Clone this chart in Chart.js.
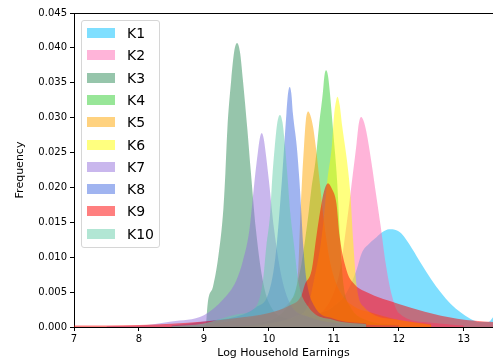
<!DOCTYPE html>
<html>
<head>
<meta charset="utf-8">
<script src="https://cdn.jsdelivr.net/npm/chart.js@4.4.0/dist/chart.umd.min.js"></script>
<style>
    html, body { margin: 0; padding: 0; background: #fff; overflow: hidden; }
    #wrap { position: relative; width: 493px; height: 363px; }
    #legend {
        position: absolute; left: 81px; top: 20px; width: 77px; height: 226px;
        border: 1px solid #d6d6d6; border-radius: 3px; background: rgba(255, 255, 255, 0.8);
        font-family: 'DejaVu Sans', sans-serif; font-size: 14px; color: #000;
    }
    .item { position: absolute; left: 5px; height: 18px; display: flex; align-items: center; white-space: nowrap; }
    .sw { width: 28px; height: 10px; margin-right: 12px; }
</style>
</head>
<body>
<div id="wrap">
    <canvas id="histChart" width="493" height="363"></canvas>
    <div id="legend"></div>
</div>
<script>
// Group labels and fill colours (drawn at alpha 0.5)
const groupLabels = ['K1', 'K2', 'K3', 'K4', 'K5', 'K6', 'K7', 'K8', 'K9', 'K10'];
const groupColors = [
    'rgba(0, 191, 255, 0.5)',   // deepskyblue
    'rgba(255, 105, 180, 0.5)', // hotpink
    'rgba(46, 139, 87, 0.5)',   // seagreen
    'rgba(50, 205, 50, 0.5)',   // limegreen
    'rgba(255, 165, 0, 0.5)',   // orange
    'rgba(255, 255, 0, 0.5)',   // yellow
    'rgba(147, 112, 219, 0.5)', // mediumpurple
    'rgba(65, 105, 225, 0.5)',  // royalblue
    'rgba(255, 0, 0, 0.5)',     // red
    'rgba(102, 205, 170, 0.5)'  // mediumaquamarine
];

// Histogram outlines: log earnings (x) and frequency (y)
const k1X = [8.5, 9.5, 10.0, 10.5, 10.8, 11.0, 11.2, 11.35, 11.43, 11.55, 11.66, 11.75, 11.85, 11.95, 12.04, 12.2, 12.35, 12.5, 12.65, 12.8, 12.95, 13.1, 13.25, 13.38, 13.45];
const k1Y = [0, 0.0002, 0.0005, 0.0012, 0.002, 0.003, 0.005, 0.0082, 0.0106, 0.012, 0.0129, 0.0136, 0.0140, 0.0139, 0.0134, 0.0113, 0.0090, 0.0068, 0.0049, 0.0033, 0.0021, 0.0012, 0.0007, 0.0007, 0.0014];

const k2X = [9.5, 10.5, 10.8, 11.0, 11.1, 11.2, 11.3, 11.35, 11.385, 11.42, 11.46, 11.5, 11.58, 11.65, 11.72, 11.8, 11.9, 12.0, 12.5, 13.0];
const k2Y = [0, 0.001, 0.002, 0.005, 0.0085, 0.015, 0.0225, 0.0263, 0.0292, 0.0301, 0.0295, 0.028, 0.0235, 0.019, 0.0145, 0.009, 0.0043, 0.002, 0.0006, 0.0002];

const k3X = [9.03, 9.06, 9.14, 9.22, 9.3, 9.33, 9.36, 9.42, 9.465, 9.51, 9.555, 9.6, 9.67, 9.72, 9.8, 9.9, 10.0, 10.3, 11.0];
const k3Y = [0, 0.0035, 0.0058, 0.010, 0.017, 0.022, 0.0282, 0.0354, 0.0394, 0.0407, 0.0394, 0.0354, 0.0282, 0.0225, 0.014, 0.007, 0.0035, 0.0012, 0.0003];

const k4X = [9.5, 9.8, 10.2, 10.4, 10.5, 10.6, 10.65, 10.72, 10.77, 10.83, 10.855, 10.88, 10.91, 10.94, 10.99, 11.05, 11.1, 11.15, 11.25, 11.5, 12.0];
const k4Y = [0, 0.0005, 0.002, 0.005, 0.009, 0.0155, 0.0195, 0.024, 0.0287, 0.0335, 0.036, 0.0368, 0.036, 0.0335, 0.028, 0.021, 0.012, 0.006, 0.003, 0.001, 0.0003];

const k5X = [9.0, 9.5, 10.0, 10.35, 10.45, 10.48, 10.51, 10.54, 10.57, 10.605, 10.64, 10.68, 10.72, 10.78, 10.85, 10.95, 11.1, 11.3, 11.6, 12.0, 12.5];
const k5Y = [0.0003, 0.001, 0.002, 0.004, 0.008, 0.015, 0.021, 0.0258, 0.0297, 0.0309, 0.0303, 0.0287, 0.026, 0.021, 0.015, 0.009, 0.005, 0.003, 0.002, 0.001, 0.0004];

const k6X = [9.5, 10.0, 10.4, 10.6, 10.7, 10.8, 10.85, 10.9, 10.97, 11.0, 11.03, 11.056, 11.09, 11.13, 11.2, 11.25, 11.3, 11.35, 11.45, 12.0, 12.5];
const k6Y = [0, 0.0005, 0.0015, 0.003, 0.007, 0.012, 0.016, 0.021, 0.026, 0.030, 0.0322, 0.033, 0.0318, 0.0287, 0.024, 0.0196, 0.012, 0.006, 0.003, 0.001, 0.0003];

const k7X = [7.5, 8.0, 8.5, 9.0, 9.3, 9.5, 9.6, 9.7, 9.78, 9.83, 9.86, 9.89, 9.92, 9.95, 10.0, 10.08, 10.2, 10.35, 10.6, 11.0, 12.0];
const k7Y = [0.0001, 0.0002, 0.0008, 0.0017, 0.004, 0.0067, 0.0095, 0.0139, 0.021, 0.025, 0.027, 0.0278, 0.027, 0.025, 0.021, 0.014, 0.007, 0.003, 0.0015, 0.0006, 0.0002];

const k8X = [8.5, 9.0, 9.5, 9.8, 10.0, 10.1, 10.2, 10.27, 10.295, 10.32, 10.345, 10.37, 10.43, 10.47, 10.5, 10.53, 10.58, 10.7, 11.0, 11.5];
const k8Y = [0.0002, 0.0008, 0.0015, 0.0028, 0.005, 0.010, 0.021, 0.0306, 0.0335, 0.0344, 0.0335, 0.0306, 0.0258, 0.021, 0.0163, 0.0115, 0.0067, 0.003, 0.0012, 0.0005];

const k9X = [7.0, 8.0, 9.0, 9.5, 10.0, 10.3, 10.5, 10.55, 10.66, 10.73, 10.81, 10.86, 10.91, 10.97, 11.04, 11.09, 11.2, 11.3, 11.5, 12.0, 12.4, 12.9, 13.45];
const k9Y = [0.0002, 0.0003, 0.0008, 0.0013, 0.002, 0.003, 0.0045, 0.006, 0.0082, 0.0129, 0.0177, 0.0198, 0.0206, 0.0198, 0.0177, 0.0129, 0.008, 0.0063, 0.005, 0.0033, 0.0022, 0.0012, 0.0007];

const k10X = [8.5, 9.0, 9.5, 9.8, 9.91, 9.96, 10.02, 10.05, 10.09, 10.13, 10.17, 10.21, 10.25, 10.29, 10.33, 10.39, 10.45, 10.6, 11.0, 11.5];
const k10Y = [0.0001, 0.0005, 0.0018, 0.0029, 0.0067, 0.0115, 0.0163, 0.0211, 0.0258, 0.0293, 0.0304, 0.0293, 0.0258, 0.0211, 0.0163, 0.0115, 0.0067, 0.003, 0.001, 0.0004];

const seriesX = [k1X, k2X, k3X, k4X, k5X, k6X, k7X, k8X, k9X, k10X];
const seriesY = [k1Y, k2Y, k3Y, k4Y, k5Y, k6Y, k7Y, k8Y, k9Y, k10Y];

// Axis ranges
const xMin = 7, xMax = 13.45, xStep = 1;
const yMin = 0, yMax = 0.045, yStep = 0.005;

Chart.defaults.font.family = "'DejaVu Sans', sans-serif";
Chart.defaults.color = '#000';

const datasets = groupLabels.map((label, i) => ({
    label: label,
    data: seriesX[i].map((x, j) => ({ x: x, y: seriesY[i][j] })),
    backgroundColor: groupColors[i],
    borderWidth: 0,
    pointRadius: 0,
    fill: 'origin',
    cubicInterpolationMode: 'monotone',
    order: groupLabels.length - i // later groups painted on top
}));

// top spine like the reference frame
const topSpine = {
    id: 'topSpine',
    afterDraw(chart) {
        const { ctx, chartArea } = chart;
        ctx.save();
        ctx.strokeStyle = '#000';
        ctx.lineWidth = 1;
        ctx.beginPath();
        ctx.moveTo(chartArea.left, chartArea.top + 0.5);
        ctx.lineTo(chartArea.right, chartArea.top + 0.5);
        ctx.stroke();
        ctx.restore();
    }
};

new Chart(document.getElementById('histChart').getContext('2d'), {
    type: 'line',
    data: { datasets },
    options: {
        responsive: false,
        animation: false,
        layout: { padding: { left: 10, top: 13, right: 0, bottom: 0 } },
        plugins: { legend: { display: false }, tooltip: { enabled: false } },
        scales: {
            x: {
                type: 'linear',
                min: xMin,
                max: xMax,
                afterFit: (s) => { s.height = 36; },
                afterBuildTicks: (s) => { s.ticks = s.ticks.filter(t => Number.isInteger(t.value)); },
                ticks: { stepSize: xStep, includeBounds: false, maxRotation: 0, autoSkip: false, padding: 2, font: { size: 10 } },
                grid: { drawOnChartArea: false, drawTicks: true, tickLength: 4, color: '#000' },
                border: { color: '#000', width: 1 },
                title: { display: true, text: 'Log Household Earnings', font: { size: 11 }, padding: { top: 0, bottom: 3 } }
            },
            y: {
                min: yMin,
                max: yMax,
                afterFit: (s) => { s.width = 64; },
                ticks: { stepSize: yStep, padding: 3, font: { size: 10 }, callback: v => Number(v).toFixed(3) },
                grid: { drawOnChartArea: false, drawTicks: true, tickLength: 4, color: '#000' },
                border: { color: '#000', width: 1 },
                title: { display: true, text: 'Frequency', font: { size: 11 }, padding: { top: 4, bottom: 0 } }
            }
        }
    },
    plugins: [topSpine]
});

// Legend box (top-left, inside the axes)
const legendBox = document.getElementById('legend');
legendBox.innerHTML = groupLabels.map((label, i) => `
    <div class="item" style="top:${3 + i * 22.3}px">
        <span class="sw" style="background:${groupColors[i]}"></span><span>${label}</span>
    </div>`).join('');
</script>
</body>
</html>
